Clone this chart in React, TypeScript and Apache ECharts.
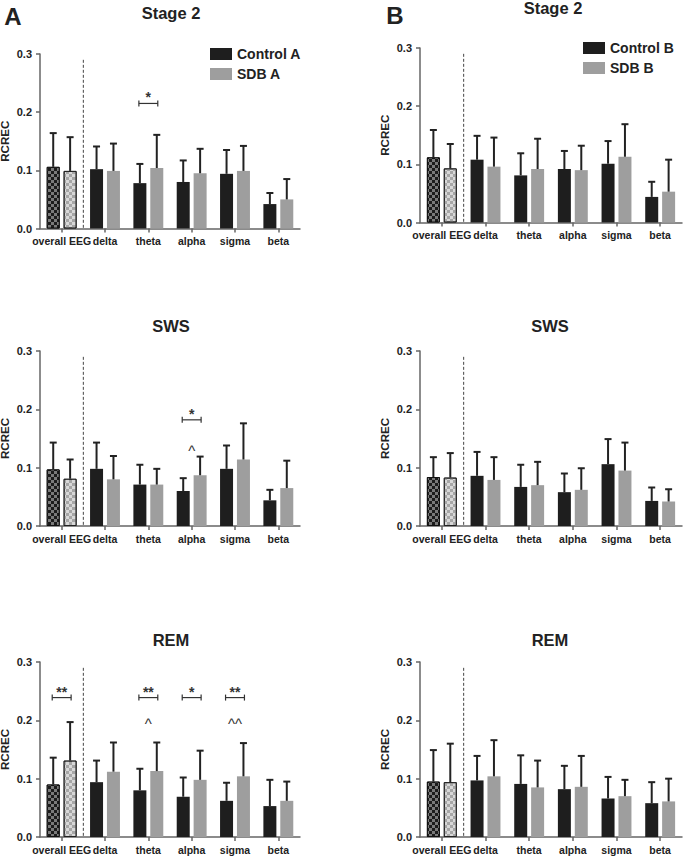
import React, { useEffect, useRef } from 'react';
import * as echarts from 'echarts';

// ---------- data ----------
const categories = ['overall EEG', 'delta', 'theta', 'alpha', 'sigma', 'beta'];
const yTicks = [0, 0.1, 0.2, 0.3];

// Panel A
const stage2ControlA = [0.106, 0.102, 0.078, 0.080, 0.094, 0.042];
const stage2ControlASd = [0.058, 0.039, 0.033, 0.037, 0.041, 0.019];
const stage2SdbA = [0.099, 0.099, 0.104, 0.095, 0.099, 0.050];
const stage2SdbASd = [0.058, 0.047, 0.057, 0.042, 0.043, 0.035];

const swsControlA = [0.097, 0.098, 0.071, 0.060, 0.098, 0.044];
const swsControlASd = [0.046, 0.045, 0.034, 0.022, 0.040, 0.018];
const swsSdbA = [0.081, 0.080, 0.071, 0.087, 0.114, 0.065];
const swsSdbASd = [0.033, 0.040, 0.027, 0.032, 0.062, 0.047];

const remControlA = [0.090, 0.094, 0.080, 0.069, 0.062, 0.053];
const remControlASd = [0.046, 0.037, 0.037, 0.033, 0.031, 0.045];
const remSdbA = [0.131, 0.112, 0.113, 0.098, 0.104, 0.062];
const remSdbASd = [0.066, 0.050, 0.049, 0.050, 0.057, 0.033];

// Panel B
const stage2ControlB = [0.112, 0.108, 0.081, 0.092, 0.101, 0.044];
const stage2ControlBSd = [0.047, 0.041, 0.038, 0.031, 0.039, 0.026];
const stage2SdbB = [0.093, 0.096, 0.092, 0.090, 0.113, 0.053];
const stage2SdbBSd = [0.042, 0.050, 0.052, 0.042, 0.056, 0.055];

const swsControlB = [0.084, 0.086, 0.067, 0.058, 0.106, 0.043];
const swsControlBSd = [0.034, 0.041, 0.038, 0.032, 0.043, 0.023];
const swsSdbB = [0.083, 0.079, 0.070, 0.062, 0.095, 0.042];
const swsSdbBSd = [0.042, 0.039, 0.040, 0.037, 0.048, 0.021];

const remControlB = [0.095, 0.097, 0.091, 0.082, 0.066, 0.058];
const remControlBSd = [0.054, 0.042, 0.049, 0.040, 0.037, 0.036];
const remSdbB = [0.094, 0.104, 0.085, 0.086, 0.070, 0.061];
const remSdbBSd = [0.066, 0.062, 0.046, 0.053, 0.028, 0.039];

// significance marks (category, label, value level)
type Mark = { cat: string; text: string; y: number };
const stage2SigA: Mark[] = [{ cat: 'theta', text: '*', y: 0.215 }];
const swsSigA: Mark[] = [{ cat: 'alpha', text: '*', y: 0.182 }];
const swsCaretA: Mark[] = [{ cat: 'alpha', text: '^', y: 0.135 }];
const remSigA: Mark[] = [
  { cat: 'overall EEG', text: '**', y: 0.239 },
  { cat: 'theta', text: '**', y: 0.239 },
  { cat: 'alpha', text: '*', y: 0.239 },
  { cat: 'sigma', text: '**', y: 0.239 },
];
const remCaretA: Mark[] = [
  { cat: 'theta', text: '^', y: 0.2 },
  { cat: 'sigma', text: '^^', y: 0.2 },
];

const stageTitles = ['Stage 2', 'SWS', 'REM'];
const legendA = ['Control A', 'SDB A'];
const legendB = ['Control B', 'SDB B'];

// ---------- styles ----------
const FONT = '"Liberation Sans", Arial, Helvetica, sans-serif';
const DARK = '#1e1e1e';
const LIGHT = '#9e9e9e';
const AXIS = '#666666';
const TEXT = '#222222';
const BAR_W = 13;
const BAR_GAP = 0.3;
const HALF = (BAR_W * (1 + BAR_GAP)) / 2;
const SEP_TOP = 0.29;

const checkDark = {
  color: '#1c1c1c',
  borderColor: '#111',
  borderWidth: 1,
  decal: { symbol: 'rect', symbolSize: 1, color: '#7a7a7a', dashArrayX: [[3, 3], [0, 3, 3, 0]], dashArrayY: [3, 0] },
};
const checkLight = {
  color: '#d8d8d8',
  borderColor: '#222',
  borderWidth: 1,
  decal: { symbol: 'rect', symbolSize: 1, color: '#a6a6a6', dashArrayX: [[3, 3], [0, 3, 3, 0]], dashArrayY: [3, 0] },
};

interface Panel {
  grid: { left: number; top: number; width: number; height: number };
  ctrl: number[]; ctrlSd: number[]; sdb: number[]; sdbSd: number[];
  ctrlName: string; sdbName: string;
  sigs: Mark[]; carets: Mark[];
}

const panels: Panel[] = [
  { grid: { left: 40, top: 54, width: 260, height: 174.5 }, ctrl: stage2ControlA, ctrlSd: stage2ControlASd, sdb: stage2SdbA, sdbSd: stage2SdbASd, ctrlName: legendA[0], sdbName: legendA[1], sigs: stage2SigA, carets: [] },
  { grid: { left: 420, top: 48, width: 262, height: 174.5 }, ctrl: stage2ControlB, ctrlSd: stage2ControlBSd, sdb: stage2SdbB, sdbSd: stage2SdbBSd, ctrlName: legendB[0], sdbName: legendB[1], sigs: [], carets: [] },
  { grid: { left: 40, top: 351, width: 260, height: 175 }, ctrl: swsControlA, ctrlSd: swsControlASd, sdb: swsSdbA, sdbSd: swsSdbASd, ctrlName: legendA[0], sdbName: legendA[1], sigs: swsSigA, carets: swsCaretA },
  { grid: { left: 420, top: 351, width: 262, height: 175 }, ctrl: swsControlB, ctrlSd: swsControlBSd, sdb: swsSdbB, sdbSd: swsSdbBSd, ctrlName: legendB[0], sdbName: legendB[1], sigs: [], carets: [] },
  { grid: { left: 40, top: 662, width: 260, height: 175 }, ctrl: remControlA, ctrlSd: remControlASd, sdb: remSdbA, sdbSd: remSdbASd, ctrlName: legendA[0], sdbName: legendA[1], sigs: remSigA, carets: remCaretA },
  { grid: { left: 420, top: 662, width: 262, height: 175 }, ctrl: remControlB, ctrlSd: remControlBSd, sdb: remSdbB, sdbSd: remSdbBSd, ctrlName: legendB[0], sdbName: legendB[1], sigs: [], carets: [] },
];

function errRender(offset: number) {
  return (params: any, api: any) => {
    const i = api.value(0);
    const m = api.value(1);
    const s = api.value(2);
    const base = api.coord([i, m]);
    const top = api.coord([i, m + s]);
    const x = base[0] + offset;
    return {
      type: 'group',
      children: [
        { type: 'line', shape: { x1: x, y1: base[1], x2: x, y2: top[1] }, style: { stroke: '#222', lineWidth: 2 } },
        { type: 'line', shape: { x1: x - 3.5, y1: top[1], x2: x + 3.5, y2: top[1] }, style: { stroke: '#222', lineWidth: 2 } },
      ],
    };
  };
}

function annotRender(p: Panel) {
  return (params: any, api: any) => {
    const x0 = api.coord([0, 0]);
    const x1 = api.coord([1, 0]);
    const sx = (x0[0] + x1[0]) / 2;
    const st = api.coord([0, SEP_TOP]);
    const children: any[] = [
      { type: 'line', shape: { x1: sx, y1: st[1], x2: sx, y2: x0[1] }, style: { stroke: '#444', lineWidth: 1, lineDash: [3, 2] } },
    ];
    p.sigs.forEach((s) => {
      const c = api.coord([categories.indexOf(s.cat), s.y]);
      const l = c[0] - HALF - 1;
      const r = c[0] + HALF + 1;
      const y = c[1];
      children.push(
        { type: 'line', shape: { x1: l, y1: y, x2: r, y2: y }, style: { stroke: '#333', lineWidth: 1.2 } },
        { type: 'line', shape: { x1: l, y1: y - 3, x2: l, y2: y + 3 }, style: { stroke: '#333', lineWidth: 1.2 } },
        { type: 'line', shape: { x1: r, y1: y - 3, x2: r, y2: y + 3 }, style: { stroke: '#333', lineWidth: 1.2 } },
        { type: 'text', x: c[0], y: y - 6, style: { text: s.text, fill: '#333', font: `bold 14px ${FONT}`, align: 'center', verticalAlign: 'middle', textAlign: 'center', textVerticalAlign: 'middle' } },
      );
    });
    p.carets.forEach((s) => {
      const c = api.coord([categories.indexOf(s.cat), s.y]);
      children.push({ type: 'text', x: c[0], y: c[1] + 3, style: { text: s.text, fill: '#333', font: `15px ${FONT}`, align: 'center', verticalAlign: 'middle', textAlign: 'center', textVerticalAlign: 'middle' } });
    });
    return { type: 'group', children };
  };
}

function buildOption() {
  const grid: any[] = [];
  const xAxis: any[] = [];
  const yAxis: any[] = [];
  const series: any[] = [];
  const axisLine = { show: true, lineStyle: { color: AXIS, width: 1.5 } };
  panels.forEach((p, gi) => {
    grid.push({ ...p.grid, containLabel: false, outerBoundsMode: 'none' });
    xAxis.push({
      type: 'category', gridIndex: gi, data: categories,
      axisLine, axisTick: { show: true, alignWithLabel: true, length: 4, lineStyle: { color: AXIS, width: 1.5 } },
      axisLabel: { interval: 0, color: TEXT, fontFamily: FONT, fontWeight: 'bold', fontSize: 10.5, margin: 7 },
    });
    yAxis.push({
      type: 'value', gridIndex: gi, min: yTicks[0], max: yTicks[yTicks.length - 1], interval: 0.1,
      name: 'RCREC', nameLocation: 'middle', nameGap: 29,
      nameTextStyle: { color: TEXT, fontFamily: FONT, fontWeight: 'bold', fontSize: 11.5 },
      axisLine, axisTick: { show: true, length: 4, lineStyle: { color: AXIS, width: 1.5 } },
      splitLine: { show: false },
      axisLabel: { color: TEXT, fontFamily: FONT, fontWeight: 'bold', fontSize: 11, margin: 8, formatter: (v: number) => v.toFixed(1) },
    });
    series.push({
      type: 'bar', name: p.ctrlName, xAxisIndex: gi, yAxisIndex: gi, barWidth: BAR_W, barGap: `${BAR_GAP * 100}%`,
      itemStyle: { color: DARK }, silent: true,
      data: p.ctrl.map((v, i) => (i === 0 ? { value: v, itemStyle: checkDark } : v)),
    });
    series.push({
      type: 'bar', name: p.sdbName, xAxisIndex: gi, yAxisIndex: gi, barWidth: BAR_W, barGap: `${BAR_GAP * 100}%`,
      itemStyle: { color: LIGHT }, silent: true,
      data: p.sdb.map((v, i) => (i === 0 ? { value: v, itemStyle: checkLight } : v)),
    });
    series.push({
      type: 'custom', xAxisIndex: gi, yAxisIndex: gi, silent: true, z: 3,
      encode: { x: 0, y: 1 }, data: p.ctrl.map((v, i) => [i, v, p.ctrlSd[i]]), renderItem: errRender(-HALF),
    });
    series.push({
      type: 'custom', xAxisIndex: gi, yAxisIndex: gi, silent: true, z: 3,
      encode: { x: 0, y: 1 }, data: p.sdb.map((v, i) => [i, v, p.sdbSd[i]]), renderItem: errRender(HALF),
    });
    series.push({
      type: 'custom', xAxisIndex: gi, yAxisIndex: gi, silent: true, z: 4,
      encode: { x: 0, y: 1 }, data: [[0, 0]], renderItem: annotRender(p),
    });
  });

  const titleText = (text: string, x: number, y: number, size: number) => ({
    type: 'text', x, y,
    style: { text, fill: TEXT, font: `bold ${size}px ${FONT}`, textAlign: 'center', textVerticalAlign: 'middle', align: 'center', verticalAlign: 'middle' },
  });

  const legendCommon = {
    orient: 'vertical', itemWidth: 22, itemHeight: 12, itemGap: 6, selectedMode: false,
    textStyle: { color: TEXT, fontFamily: FONT, fontWeight: 'bold', fontSize: 14 },
    icon: 'rect',
  };

  return {
    animation: false,
    grid, xAxis, yAxis, series,
    legend: [
      { ...legendCommon, data: legendA, left: 205, top: 42 },
      { ...legendCommon, data: legendB, left: 578, top: 36 },
    ],
    graphic: [
      titleText('A', 13, 16, 24),
      titleText('B', 395, 15, 24),
      titleText(stageTitles[0], 171, 13, 16.5),
      titleText(stageTitles[0], 553, 8, 16.5),
      titleText(stageTitles[1], 171, 326, 16.5),
      titleText(stageTitles[1], 550, 326, 16.5),
      titleText(stageTitles[2], 171, 640, 16.5),
      titleText(stageTitles[2], 550, 640, 16.5),
    ],
  };
}

export default function App() {
  const ref = useRef<HTMLDivElement>(null);
  useEffect(() => {
    if (!ref.current) return;
    const chart = echarts.init(ref.current, undefined, { renderer: 'svg' });
    chart.setOption(buildOption() as any);
    return () => chart.dispose();
  }, []);
  return <div ref={ref} style={{ position: 'absolute', left: 0, top: 0, width: 684, height: 857, background: '#fff' }} />;
}
